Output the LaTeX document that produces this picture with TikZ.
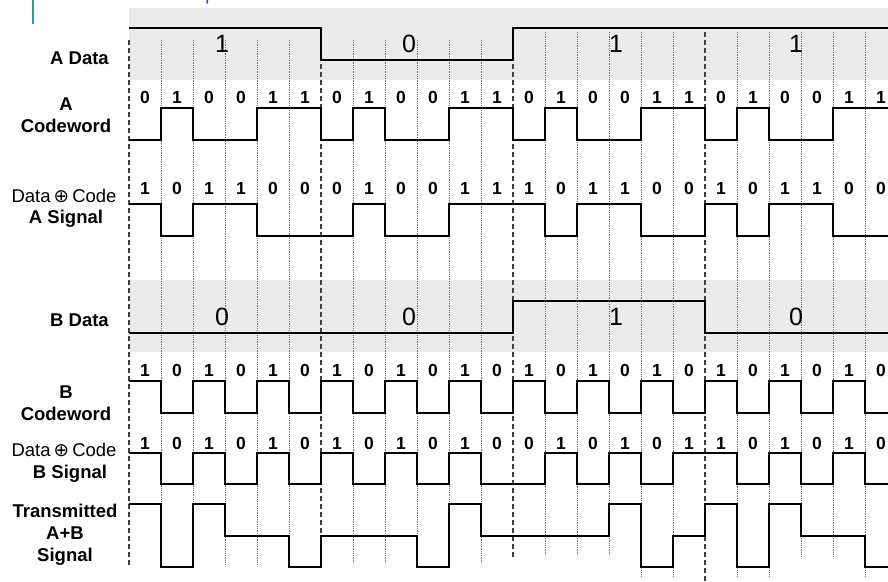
\documentclass[tikz,border=0pt]{standalone}
\usepackage{fontspec}
\setmainfont{Liberation Sans}
\newfontfamily\opfont{DejaVu Sans}
\definecolor{barteal}{RGB}{30,160,150}
\definecolor{titleblue}{RGB}{40,70,200}

\tikzset{
  band/.style={fill=black!8, draw=none},
  wave/.style={line width=2pt, line join=miter},
  chipline/.style={black!55, line width=0.9pt, dash pattern=on 0.9pt off 0.9pt},
  groupline/.style={black!75, line width=1.6pt, dash pattern=on 5pt off 3pt},
  bit/.style={font=\bfseries\fontsize{17.5}{17.5}\selectfont, inner sep=0pt},
  rowlabel/.style={font=\bfseries\fontsize{18.5}{22}\selectfont, align=center, inner sep=0pt},
  xorlabel/.style={font=\fontsize{18.5}{18.5}\selectfont, inner sep=0pt},
  datalabel/.style={font=\fontsize{25}{25}\selectfont, inner sep=0pt},
}

% waveform: base y, step, first value, values (one per chip)
\newcommand{\chipwave}[4]{%
  \draw[wave] (129,{#1-#3*#2}) \foreach \v [count=\i from 0] in {#4} {
    -- ({129+32*\i},{#1-\v*#2}) -- ({161+32*\i},{#1-\v*#2})};
}
% chip values written above a waveform: name, y, values
\newcommand{\chipbits}[3]{%
  \foreach \v [count=\i from 0] in {#3}
    \node[bit] (#1\i) at ({145+32*\i},#2) {\v};
}

\begin{document}
\begin{tikzpicture}[x=1pt, y=-1pt]
  \useasboundingbox (0,0) rectangle (888,581);
  \clip (0,0) rectangle (888,581);

  % Header remains
  \draw[barteal, line width=2.5pt] (33,0) -- (33,24);
  \draw[titleblue, line width=1.5pt] (207.5,0) -- (207,3.5);

  % Gray bands behind the data rows
  \fill[band] (129,8) rectangle (888,80);
  \fill[band] (129,280) rectangle (888,352);

  % Chip boundaries (dashed every bit of data)
  \foreach \e [count=\k from 0] in {565,567,567,565,565,567,567,563,563,567,567,563,
                                    559,555,555,555,577,577,581,577,577,557,557,577} {
    \pgfmathtruncatemacro\m{mod(\k,6)}
    \pgfmathsetmacro\s{\k>12 ? 32 : 40}
    \ifnum\m=0
      \draw[groupline] ({129+32*\k},\s) -- ({129+32*\k},\e);
    \else
      \draw[chipline] ({129+32*\k},\s) -- ({129+32*\k},\e);
    \fi
  }

  % A data
  \draw[wave] (129,27.5) -- (321,27.5) -- (321,60) -- (513,60) -- (513,27.5) -- (888,27.5);
  \foreach \v/\x [count=\i] in {1/222,0/409,1/616,1/796}
    \node[datalabel] (ad\i) at (\x,44) {\v};

  % A codeword and A signal
  \chipwave{140}{32}{0}{0,1,0,0,1,1,0,1,0,0,1,1,0,1,0,0,1,1,0,1,0,0,1,1}
  \chipbits{ac}{97}{0,1,0,0,1,1,0,1,0,0,1,1,0,1,0,0,1,1,0,1,0,0,1,1}
  \chipwave{235.5}{32}{1}{1,0,1,1,0,0,0,1,0,0,1,1,1,0,1,1,0,0,1,0,1,1,0,0}
  \chipbits{as}{188}{1,0,1,1,0,0,0,1,0,0,1,1,1,0,1,1,0,0,1,0,1,1,0,0}

  % B data
  \draw[wave] (129,332.5) -- (513,332.5) -- (513,301) -- (705,301) -- (705,332.5) -- (888,332.5);
  \foreach \v/\x [count=\i] in {0/222,0/409,1/616,0/796}
    \node[datalabel] (bd\i) at (\x,316.5) {\v};

  % B codeword and B signal
  \chipwave{412.5}{32}{1}{1,0,1,0,1,0,1,0,1,0,1,0,1,0,1,0,1,0,1,0,1,0,1,0}
  \chipbits{bc}{370}{1,0,1,0,1,0,1,0,1,0,1,0,1,0,1,0,1,0,1,0,1,0,1,0}
  \chipwave{484}{31.5}{1}{1,0,1,0,1,0,1,0,1,0,1,0,0,1,0,1,0,1,1,0,1,0,1,0}
  \chipbits{bs}{443}{1,0,1,0,1,0,1,0,1,0,1,0,0,1,0,1,0,1,1,0,1,0,1,0}

  % Sum on the channel
  \chipwave{567}{31.5}{2}{2,0,2,1,1,0,1,1,1,0,2,1,1,1,1,2,0,1,2,0,2,1,1,0}

  % Row names
  \node[rowlabel, anchor=east] (adata) at (109,58) {A Data};
  \node[rowlabel] (acode) at (66,115) {A\\Codeword};
  \node[xorlabel] (axor) at (64,196) {Data\,{\opfont ⊕}\,Code};
  \node[rowlabel] (asig) at (66,219) {A Signal};
  \node[rowlabel, anchor=east] (bdata) at (109,320) {B Data};
  \node[rowlabel] (bcode) at (66,403) {B\\Codeword};
  \node[xorlabel] (bxor) at (64,450) {Data\,{\opfont ⊕}\,Code};
  \node[rowlabel] (bsig) at (70,474) {B Signal};
  \node[rowlabel] (tx) at (65,535) {Transmitted\\A+B\\Signal};
\end{tikzpicture}
\end{document}
